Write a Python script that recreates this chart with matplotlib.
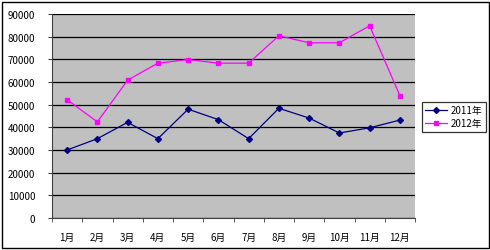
import matplotlib
matplotlib.use("Agg")
import matplotlib.pyplot as plt
from matplotlib.patches import Rectangle

plt.rcParams['font.family'] = ['Noto Sans CJK SC', 'DejaVu Sans']

months = ['1月', '2月', '3月', '4月', '5月', '6月', '7月', '8月', '9月', '10月', '11月', '12月']
sales_2011 = [30000, 35000, 42200, 35000, 48000, 43400, 35000, 48400, 44100, 37500, 39800, 43200]
sales_2012 = [52200, 42400, 60800, 68300, 69900, 68300, 68300, 80400, 77300, 77300, 84800, 54000]
series_names = ['2011年', '2012年']
yticks = [0, 10000, 20000, 30000, 40000, 50000, 60000, 70000, 80000, 90000]

W, H = 490, 251
fig = plt.figure(figsize=(W / 100, H / 100), dpi=100)
fig.patch.set_facecolor('white')
fig.patches.append(Rectangle((2 / W, 2 / H), 486.5 / W, 246.5 / H, transform=fig.transFigure,
                             fill=False, edgecolor='black', linewidth=1.0))

ax = fig.add_axes([52 / W, 1 - 219 / H, 363 / W, 204 / H])
ax.set_facecolor('#C0C0C0')
x = list(range(len(months)))
ax.plot(x, sales_2011, color='#000080', marker='D', markersize=3, linewidth=0.9, label=series_names[0])
ax.plot(x, sales_2012, color='#FF00FF', marker='s', markersize=3.5, linewidth=0.9, label=series_names[1])

ax.set_xlim(-0.5, len(months) - 0.5)
ax.set_ylim(0, 90000)
ax.set_yticks(yticks)
ax.set_yticklabels([str(v) for v in yticks], fontsize=7)
ax.yaxis.grid(True, color='black', linewidth=0.9)
ax.set_axisbelow(True)
ax.set_xticks(x)
ax.set_xticklabels(months, fontsize=7)
ax.tick_params(axis='x', which='major', length=0, pad=10)
ax.set_xticks([i + 0.5 for i in range(-1, len(months))], minor=True)
ax.tick_params(axis='x', which='minor', length=3, color='#404040', direction='out')
ax.tick_params(axis='y', length=3, color='#404040', pad=9)
for s in ['top', 'right']:
    ax.spines[s].set_visible(False)
ax.spines['left'].set_color('#404040')
ax.spines['bottom'].set_color('#404040')

leg = fig.legend(loc='upper left', bbox_to_anchor=(422 / W, 1 - 103 / H), fontsize=7,
                 frameon=True, fancybox=False, edgecolor='black', borderpad=0.35,
                 handlelength=2.2, labelspacing=0.3, handletextpad=0.4, borderaxespad=0)
leg.get_frame().set_linewidth(0.9)

fig.savefig('out.png', dpi=100)
